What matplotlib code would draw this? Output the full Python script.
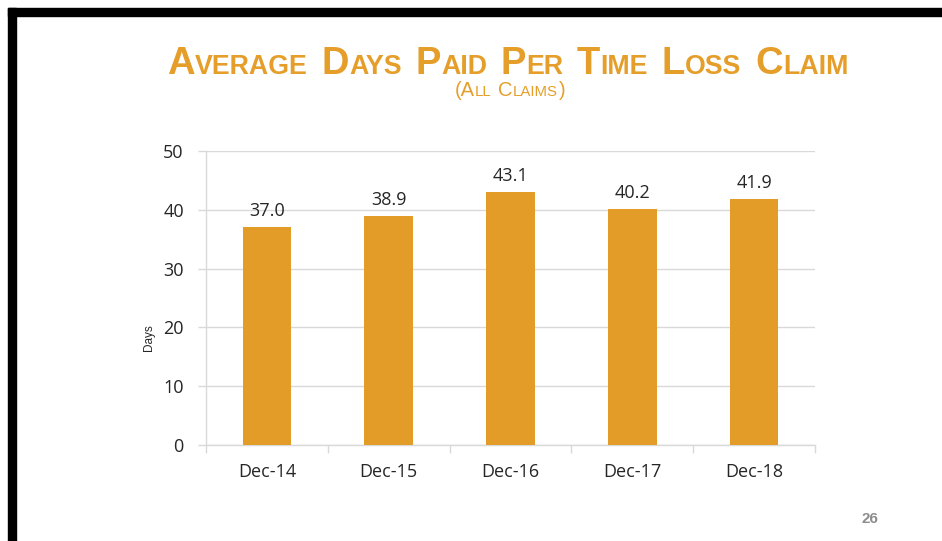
import numpy as np
import matplotlib
matplotlib.use('Agg')
import matplotlib.pyplot as plt
from matplotlib.ticker import FixedLocator

# data
categories = ['Dec-14', 'Dec-15', 'Dec-16', 'Dec-17', 'Dec-18']
avg_days = [37.0, 38.9, 43.1, 40.2, 41.9]
y_ticks = [0, 10, 20, 30, 40, 50]

title_text = 'Average Days Paid Per Time Loss Claim'
subtitle_text = '(All Claims)'
page_no = '26'

orange = '#E39C27'
title_orange = '#E59E2A'
grid_gray = '#D9D9D9'
text_dark = '#262626'

W, H = 942, 541
fig = plt.figure(figsize=(W / 100, H / 100), dpi=100)
fig.patch.set_facecolor('white')


def px(x, y):
    # pixel coords (from top-left) -> figure fraction
    return x / W, 1 - y / H


# slide frame: black band at top and left
fig.patches.append(plt.Rectangle(px(8, 16), 1, 8 / H, transform=fig.transFigure,
                                 color='black', zorder=0))
fig.patches.append(plt.Rectangle(px(8, H), 8 / W, 1 - 8 / H, transform=fig.transFigure,
                                 color='black', zorder=0))


def small_caps(text, xc, y_base, big, small, space_w, family, weight, color):
    # split into runs of big (caps / punctuation) and small (lowercase -> caps) chars
    runs = []
    for ch in text:
        if ch == ' ':
            runs.append((' ', small))
            continue
        size = small if ch.islower() else big
        up = ch.upper()
        if runs and runs[-1][1] == size and runs[-1][0] != ' ':
            runs[-1] = (runs[-1][0] + up, size)
        else:
            runs.append((up, size))
    r = fig.canvas.get_renderer()
    items = []
    total = 0
    for s, size in runs:
        if s == ' ':
            items.append((None, space_w))
            total += space_w
            continue
        t = fig.text(0, 0, s, fontsize=size, family=family, weight=weight,
                     color=color, ha='left', va='baseline')
        w = t.get_window_extent(r).width + 0.5
        items.append((t, w))
        total += w
    x = xc - total / 2
    for t, w in items:
        if t is not None:
            t.set_position(px(x, y_base))
        x += w


small_caps(title_text, 508, 74, 27.5, 19.3, 13, ['Liberation Sans', 'DejaVu Sans'],
           'bold', title_orange)
small_caps(subtitle_text, 510, 96, 14.5, 10.8, 6,
           ['Liberation Sans Narrow', 'Liberation Sans', 'DejaVu Sans'], 'normal', title_orange)

ax = fig.add_axes([206 / W, 1 - 445 / H, (815 - 206) / W, (445 - 151) / H])
x = np.arange(len(categories))
bars = ax.bar(x, avg_days, width=0.4, color=orange, zorder=3)

ax.set_xlim(-0.5, len(categories) - 0.5)
ax.set_ylim(0, 50)
ax.set_yticks(y_ticks)
ax.set_xticks(x)
ax.set_xticklabels(categories)
ax.xaxis.set_minor_locator(FixedLocator(np.arange(len(categories) + 1) - 0.5))

font = ['Open Sans', 'DejaVu Sans']
for lab in ax.get_xticklabels() + ax.get_yticklabels():
    lab.set_family(font)
    lab.set_fontsize(13)
    lab.set_color(text_dark)

ax.tick_params(axis='x', which='major', length=0, pad=13)
ax.tick_params(axis='x', which='minor', length=6, color=grid_gray, width=1)
ax.tick_params(axis='y', length=6, color=grid_gray, width=1, pad=10)

ax.grid(axis='y', color=grid_gray, linewidth=1, zorder=0)
for side in ['top', 'right']:
    ax.spines[side].set_visible(False)
for side in ['left', 'bottom']:
    ax.spines[side].set_color(grid_gray)
    ax.spines[side].set_linewidth(1)

for b, v in zip(bars, avg_days):
    ax.annotate(f'{v:.1f}', (b.get_x() + b.get_width() / 2, v), xytext=(0, 5),
                textcoords='offset points', ha='center', va='bottom',
                fontsize=13, family=font, color=text_dark)

fig.text(*px(148.5, 338), 'Days', rotation=90, ha='center', va='center',
         fontsize=8.5, family=['Liberation Sans Narrow', 'Liberation Sans'], color=text_dark)

fig.text(*px(870, 519), page_no, ha='center', va='center', fontsize=11,
         weight='bold', family=['Liberation Sans', 'DejaVu Sans'], color='#8C8C8C')

fig.savefig('out.png', dpi=100)
